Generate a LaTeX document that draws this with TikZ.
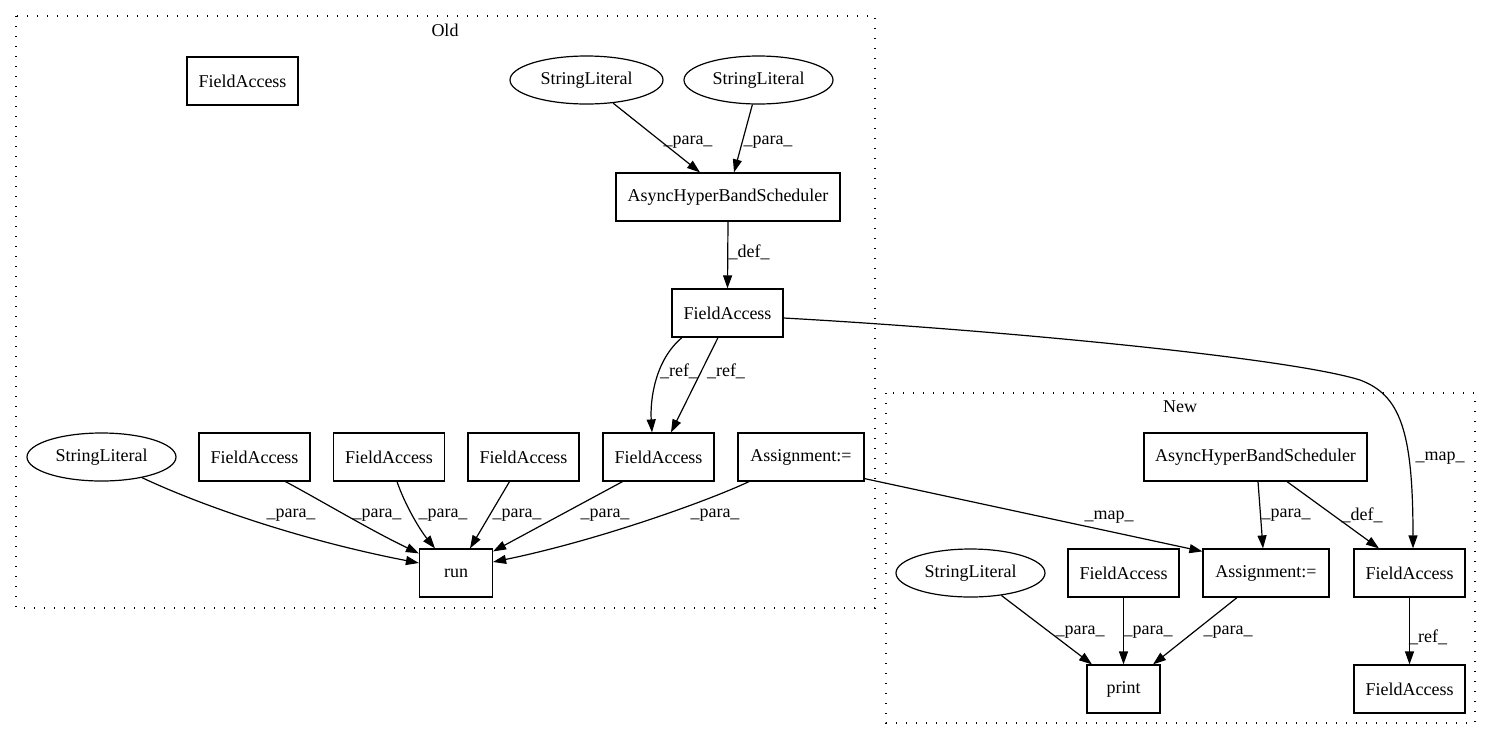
\documentclass[tikz,border=0pt]{standalone}
\usepackage{fontspec}
\setmainfont{Liberation Serif}
\usetikzlibrary{arrows.meta,shapes.geometric}
\begin{document}
\begin{tikzpicture}[x=1pt,y=-1pt,
 every node/.style={font=\fontsize{18pt}{21pt}\selectfont, inner sep=0pt},
 box/.style={draw, line width=1.2pt, minimum height=48pt},
 ell/.style={draw, ellipse, line width=1.2pt, minimum height=48pt},
 cluster/.style={draw, line width=1.3pt, dash pattern=on 1.3pt off 8.7pt},
 edge/.style={draw, line width=1.2pt, -{Triangle[length=13pt,width=9pt]}},
]
\useasboundingbox (0,0) rectangle (1492,740);

% clusters
\draw[cluster] (16,16) rectangle (875,608);
\draw[cluster] (886,393) rectangle (1475,723);
\node (oldlbl) at (445,30) {Old};
\node (newlbl) at (1180,407) {New};

% Old nodes
\node[box, minimum width=111pt] (oFA0) at (242.5,81) {FieldAccess};
\node[ell, minimum width=153pt] (oSL1) at (586.5,80) {StringLiteral};
\node[ell, minimum width=149pt] (oSL2) at (758.5,80) {StringLiteral};
\node[box, minimum width=224pt] (oAH) at (728,197) {AsyncHyperBandScheduler};
\node[box, minimum width=111pt] (oFM) at (727.5,313) {FieldAccess};
\node[ell, minimum width=149pt] (oSL3) at (101.5,457) {StringLiteral};
\node[box, minimum width=111pt] (oFa) at (254.5,457) {FieldAccess};
\node[box, minimum width=111pt] (oFb) at (389,457) {FieldAccess};
\node[box, minimum width=111pt] (oFc) at (523.5,457) {FieldAccess};
\node[box, minimum width=111pt] (oFR) at (658.5,457) {FieldAccess};
\node[box, minimum width=126pt] (oAS) at (801,457) {Assignment:=};
\node[box, minimum width=73pt] (run) at (456,573) {run};

% New nodes
\node[box, minimum width=223pt] (nAH) at (1255.5,457) {AsyncHyperBandScheduler};
\node[ell, minimum width=149pt] (nSL) at (970.5,573) {StringLiteral};
\node[box, minimum width=111pt] (nFa) at (1123.5,573) {FieldAccess};
\node[box, minimum width=126pt] (nAS) at (1266,573) {Assignment:=};
\node[box, minimum width=111pt] (nFA) at (1409.5,573) {FieldAccess};
\node[box, minimum width=73pt] (print) at (1123.5,689) {print};
\node[box, minimum width=111pt] (nFB) at (1409.5,689) {FieldAccess};

% Old edges
\draw[edge] (oSL1.-41.5) -- ([xshift=-28pt]oAH.north);
\draw[edge] (oSL2.-104.6) -- ([xshift=6pt]oAH.north);
\draw[edge] (oAH.south) -- (oFM.north);
\draw[edge] ([xshift=-45.5pt]oFM.south) .. controls (655,360) and (650,400) .. ([xshift=-6.5pt]oFR.north);
\draw[edge] ([xshift=-9.5pt]oFM.south) -- ([xshift=12.5pt]oFR.north);
\draw[edge] (oSL3.-27) .. controls (200,505) and (300,540) .. ([yshift=10pt]run.west);
\draw[edge] ([xshift=31pt]oFa.south) .. controls (320,500) and (370,530) .. ([yshift=-5pt]run.north west);
\draw[edge] ([xshift=8pt]oFb.south) .. controls (405,505) and (420,530) .. ([xshift=-21pt]run.north);
\draw[edge] ([xshift=-14pt]oFc.south) -- ([xshift=14pt]run.north);
\draw[edge] ([xshift=-36pt]oFR.south) -- ([yshift=-3pt]run.north east);
\draw[edge] ([xshift=-52pt]oAS.south) .. controls (710,500) and (600,540) .. ([yshift=11pt]run.east);

% cross edges
\draw[edge] ([yshift=3pt]oAS.south east) -- ([yshift=-3pt]nAS.north west);
\draw[edge] ([yshift=-5pt]oFM.east) .. controls (1000,330) and (1290,358) .. (1360,380)
  .. controls (1400,395) and (1413,430) .. ([xshift=3.5pt]nFA.north);

% New edges
\draw[edge] ([xshift=2.5pt]nAH.south) -- ([xshift=-3pt]nAS.north);
\draw[edge] ([xshift=31.5pt]nAH.south) -- ([xshift=-30.5pt]nFA.north);
\draw[edge] (nFA.south) -- (nFB.north);
\draw[edge] (nSL.-36.7) -- ([xshift=-31.5pt]print.north);
\draw[edge] (nFa.south) -- (print.north);
\draw[edge] ([xshift=-29pt]nAS.south) -- ([xshift=29.5pt]print.north);

% edge labels
\node (l1) at (688,142) {\_para\_};
\node (l2) at (768,142) {\_para\_};
\node (l3) at (749,252) {\_def\_};
\node (l4) at (679,371) {\_ref\_};
\node (l5) at (726,371) {\_ref\_};
\node (l6) at (291,515) {\_para\_};
\node (l7) at (377,515) {\_para\_};
\node (l8) at (443,515) {\_para\_};
\node (l9) at (517,515) {\_para\_};
\node (l10) at (605,515) {\_para\_};
\node (l11) at (715,515) {\_para\_};
\node (l12) at (1109,517) {\_map\_};
\node (l13) at (1440,458) {\_map\_};
\node (l14) at (1286,515) {\_para\_};
\node (l15) at (1362,515) {\_def\_};
\node (l16) at (1428,637) {\_ref\_};
\node (l17) at (1080,632) {\_para\_};
\node (l18) at (1148,632) {\_para\_};
\node (l19) at (1228,632) {\_para\_};
\end{tikzpicture}
\end{document}
